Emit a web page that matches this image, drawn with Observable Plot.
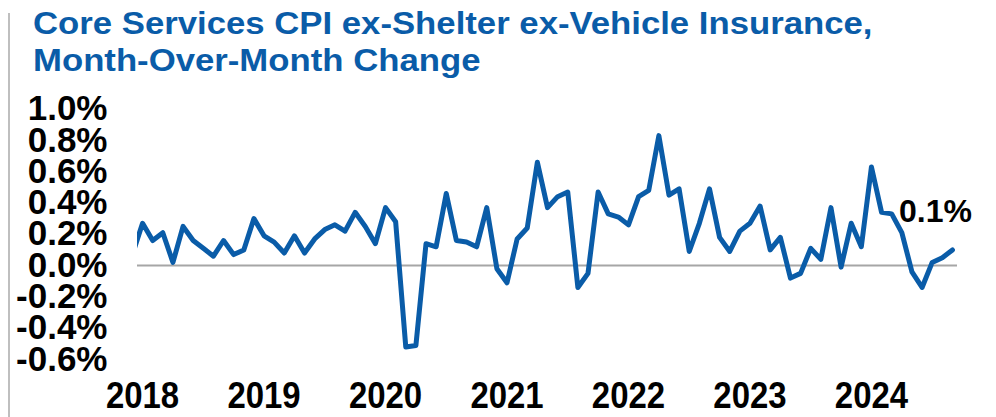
<!DOCTYPE html>
<html>
<head>
<meta charset="utf-8">
<script src="https://cdn.jsdelivr.net/npm/d3@7"></script>
<script src="https://cdn.jsdelivr.net/npm/@observablehq/plot@0.6"></script>
<style>
  html, body { margin: 0; padding: 0; background: #fff; }
  #wrap { position: relative; width: 996px; height: 417px; overflow: hidden; }
  #vbar { position: absolute; left: 8px; top: 13px; width: 2px; height: 404px; background: #bfbfbf; }
  #title { position: absolute; left: 33px; top: 5px; font-family: "Liberation Sans", Arial, sans-serif; font-weight: bold; font-size: 31px; line-height: 37px; color: #0a5ca8; white-space: nowrap; transform: scaleX(1.12); transform-origin: 0 0; }
  #chart { position: absolute; left: 0; top: 88px; }
</style>
</head>
<body>
<div id="wrap">
  <div id="vbar"></div>
  <div id="title">Core Services CPI ex-Shelter ex-Vehicle Insurance,<br>Month-Over-Month Change</div>
  <div id="chart"></div>
</div>
<script>
// Months from Dec 2017 through Sep 2024 (index 0 = Jan 2018)
const startYear = 2017, startMonth = 12;
const values = [
  0.07,
  0.27, 0.16, 0.21, 0.02, 0.25, 0.16, 0.11, 0.06, 0.16, 0.07, 0.10, 0.30,
  0.19, 0.15, 0.08, 0.19, 0.08, 0.17, 0.23, 0.26, 0.22, 0.34, 0.25, 0.14,
  0.37, 0.28, -0.52, -0.51, 0.14, 0.12, 0.46, 0.16, 0.15, 0.12, 0.37, -0.02,
  -0.11, 0.17, 0.24, 0.66, 0.37, 0.44, 0.47, -0.14, -0.05, 0.47, 0.33, 0.31,
  0.26, 0.44, 0.48, 0.83, 0.45, 0.49, 0.09, 0.27, 0.49, 0.18, 0.09, 0.22,
  0.27, 0.38, 0.10, 0.18, -0.08, -0.05, 0.11, 0.04, 0.37, -0.01, 0.27, 0.12,
  0.63, 0.34, 0.33, 0.21, -0.04, -0.14, 0.02, 0.05, 0.10
];
const months = values.map((_, i) => {
  const m = startMonth - 1 + i;
  return `${startYear + Math.floor(m / 12)}-${String((m % 12) + 1).padStart(2, "0")}`;
});
const yearLabels = ["2018", "2019", "2020", "2021", "2022", "2023", "2024"];
const yTicks = [-0.6, -0.4, -0.2, 0.0, 0.2, 0.4, 0.6, 0.8, 1.0];
const lastLabel = "0.1%";

const monthIndex = s => (+s.slice(0, 4) - 2018) * 12 + (+s.slice(5, 7) - 1);
const data = months.map((m, i) => ({ t: monthIndex(m), v: values[i] }));
const yearTicks = yearLabels.map(y => (+y - 2018) * 12);
const last = data[data.length - 1];

const chart = Plot.plot({
  width: 996,
  height: 329,
  marginLeft: 137,
  marginRight: 39,
  marginTop: 20.5,
  marginBottom: 58,
  x: { domain: [-0.5, 80.5], axis: null },
  y: { domain: [-0.6, 1.0], axis: null },
  marks: [
    Plot.ruleY([0], { stroke: "#a6a6a6", strokeWidth: 2 }),
    Plot.axisY(yTicks, {
      tickSize: 0, tickPadding: 30, label: null,
      tickFormat: d => d.toFixed(1) + "%",
      fontSize: 35, fontWeight: "bold", fill: "#000",
      fontFamily: "Liberation Sans, Arial, sans-serif"
    }),
    Plot.axisX(yearTicks, {
      tickSize: 0, tickPadding: 22, label: null,
      tickFormat: (d, i) => yearLabels[i],
      fontSize: 37, fontWeight: "bold", fill: "#000",
      fontFamily: "Liberation Sans, Arial, sans-serif",
      className: "yr"
    }),
    Plot.line(data, { x: "t", y: "v", stroke: "#0a5ca8", strokeWidth: 5, clip: true }),
    Plot.text([last], {
      x: "t", y: "v", text: () => lastLabel, dx: -17, dy: -38,
      fontSize: 32, fontWeight: "bold", fill: "#000",
      fontFamily: "Liberation Sans, Arial, sans-serif"
    })
  ]
});
// condense the year labels horizontally (reference uses a narrow face)
d3.select(chart).selectAll(".yr text").each(function () {
  const t = this.getAttribute("transform") || "";
  this.setAttribute("transform", t + " scale(0.89,1)");
});
document.getElementById("chart").appendChild(chart);
</script>
</body>
</html>
